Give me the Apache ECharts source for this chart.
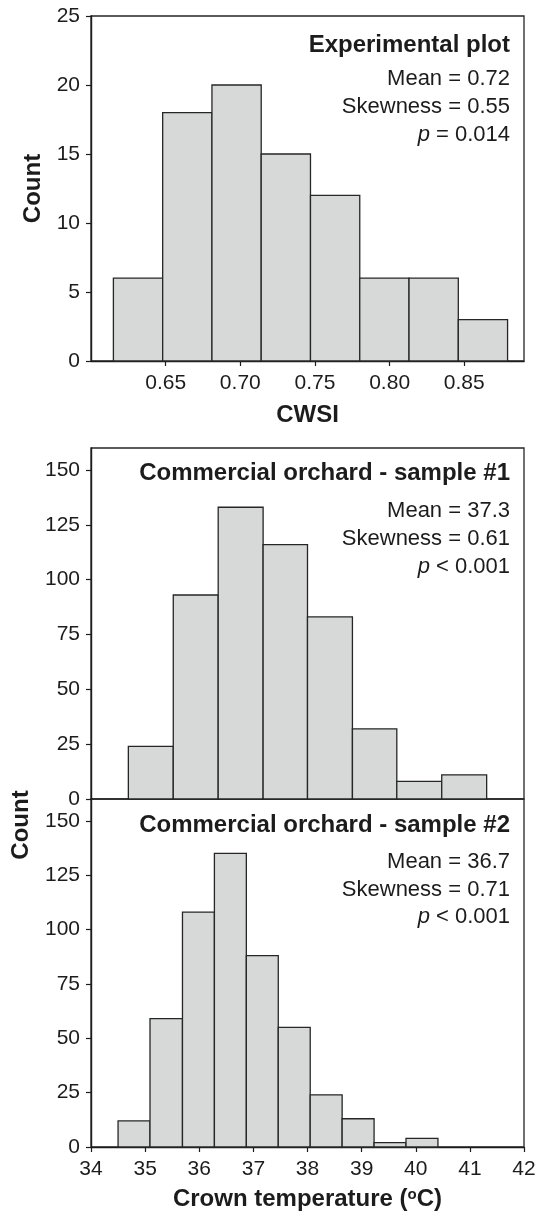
<!DOCTYPE html>
<html>
<head>
<meta charset="utf-8">
<script src="https://cdn.jsdelivr.net/npm/echarts@6/dist/echarts.min.js"></script>
<style>
html,body{margin:0;padding:0;background:#fff;}
#chart{width:543px;height:1212px;}
</style>
</head>
<body>
<div id="chart"></div>
<script>
// ---- data ----
const expEdges = [0.615, 0.648, 0.681, 0.714, 0.747, 0.780, 0.813, 0.846, 0.879];
const expCounts = [6, 18, 20, 15, 12, 6, 6, 3];
const s1Edges = [34.69, 35.52, 36.35, 37.18, 38.00, 38.83, 39.65, 40.48, 41.31];
const s1Counts = [24, 93, 133, 116, 83, 32, 8, 11];
const s2Edges = [34.50, 35.09, 35.69, 36.28, 36.87, 37.46, 38.05, 38.64, 39.23, 39.82, 40.41];
const s2Counts = [12, 59, 108, 135, 88, 55, 24, 13, 2, 4];
const cwsiTicks = [0.65, 0.70, 0.75, 0.80, 0.85];
const expYTicks = [0, 5, 10, 15, 20, 25];
const orchYTicks = [0, 25, 50, 75, 100, 125, 150];
const tempTicks = [34, 35, 36, 37, 38, 39, 40, 41, 42];
const panelTitles = ['Experimental plot', 'Commercial orchard - sample #1', 'Commercial orchard - sample #2'];
const panelStats = [
  ['Mean = 0.72', 'Skewness = 0.55', '{i|p} = 0.014'],
  ['Mean = 37.3', 'Skewness = 0.61', '{i|p} < 0.001'],
  ['Mean = 36.7', 'Skewness = 0.71', '{i|p} < 0.001']
];

function toBins(edges, counts) {
  return counts.map((c, i) => [edges[i], edges[i + 1], c]);
}

const FONT = "'Liberation Sans', Arial, Helvetica, sans-serif";
const INK = '#1c1c1c';

function renderBin(params, api) {
  const p0 = api.coord([api.value(0), api.value(2)]);
  const p1 = api.coord([api.value(1), 0]);
  return {
    type: 'rect',
    shape: { x: p0[0], y: p0[1], width: p1[0] - p0[0], height: p1[1] - p0[1] },
    style: { fill: '#d7d9d8', stroke: '#262626', lineWidth: 1.3 }
  };
}

const axisLineStyle = { show: true, lineStyle: { color: INK, width: 1.4 } };
const tickStyle = { show: true, length: 5, lineStyle: { color: INK, width: 1.2 } };
const labelStyle = { color: INK, fontSize: 21, fontFamily: FONT };

const gridStyle = { show: true, borderColor: '#262626', borderWidth: 1.3, backgroundColor: 'transparent' };

const chart = echarts.init(document.getElementById('chart'), null, { renderer: 'canvas' });

function statTexts(panel, yTitle, yFirst, step) {
  const out = [{
    type: 'text', x: 510, y: yTitle,
    style: { text: panelTitles[panel], fill: INK, font: 'bold 24px ' + FONT, align: 'right', verticalAlign: 'middle' }
  }];
  panelStats[panel].forEach((t, i) => {
    out.push({
      type: 'text', x: 510, y: yFirst + i * step,
      style: {
        text: t, fill: INK, fontSize: 22, fontFamily: FONT, align: 'right', verticalAlign: 'middle',
        rich: { i: { fontStyle: 'italic', fontSize: 22, fontFamily: FONT, fill: INK } }
      }
    });
  });
  return out;
}

const option = {
  animation: false,
  backgroundColor: '#fff',
  textStyle: { fontFamily: FONT },
  grid: [
    Object.assign({ left: 91, top: 16, width: 433, height: 345 }, gridStyle),
    Object.assign({ left: 91, top: 448, width: 433, height: 351 }, gridStyle),
    Object.assign({ left: 91, top: 799, width: 433, height: 349 }, gridStyle)
  ],
  xAxis: [
    {
      type: 'value', gridIndex: 0, min: 0.60, max: 0.89,
      axisLine: axisLineStyle,
      axisTick: Object.assign({ customValues: cwsiTicks }, tickStyle),
      axisLabel: Object.assign({ customValues: cwsiTicks, margin: 12, formatter: v => v.toFixed(2) }, labelStyle),
      splitLine: { show: false },
      name: 'CWSI', nameLocation: 'middle', nameGap: 42,
      nameTextStyle: { fontSize: 24, fontWeight: 'bold', color: INK, fontFamily: FONT }
    },
    {
      type: 'value', gridIndex: 1, min: 34, max: 42, interval: 1,
      axisLine: { show: false }, axisTick: { show: false }, axisLabel: { show: false },
      splitLine: { show: false }
    },
    {
      type: 'value', gridIndex: 2, min: 34, max: 42, interval: 1,
      axisLine: axisLineStyle,
      axisTick: Object.assign({ customValues: tempTicks }, tickStyle),
      axisLabel: Object.assign({ customValues: tempTicks, margin: 12 }, labelStyle),
      splitLine: { show: false },
      name: '{b|Crown temperature (}{s|o}{b|C)}', nameLocation: 'middle', nameGap: 40,
      nameTextStyle: {
        color: INK, fontFamily: FONT,
        rich: {
          b: { fontSize: 24, fontWeight: 'bold', color: INK, fontFamily: FONT },
          s: { fontSize: 15, fontWeight: 'bold', color: INK, fontFamily: FONT, verticalAlign: 'top', padding: [0, 0, 8, 0] }
        }
      }
    }
  ],
  yAxis: [
    {
      type: 'value', gridIndex: 0, min: 0, max: 25, interval: 5,
      axisLine: axisLineStyle,
      axisTick: Object.assign({ customValues: expYTicks }, tickStyle),
      axisLabel: Object.assign({ customValues: expYTicks, margin: 11 }, labelStyle),
      splitLine: { show: false },
      name: 'Count', nameLocation: 'middle', nameGap: 44, nameRotate: 90,
      nameTextStyle: { fontSize: 24, fontWeight: 'bold', color: INK, fontFamily: FONT }
    },
    {
      type: 'value', gridIndex: 1, min: 0, max: 160, interval: 25,
      axisLine: axisLineStyle,
      axisTick: Object.assign({ customValues: orchYTicks }, tickStyle),
      axisLabel: Object.assign({ customValues: orchYTicks, margin: 11 }, labelStyle),
      splitLine: { show: false }
    },
    {
      type: 'value', gridIndex: 2, min: 0, max: 160, interval: 25,
      axisLine: axisLineStyle,
      axisTick: Object.assign({ customValues: orchYTicks }, tickStyle),
      axisLabel: Object.assign({ customValues: orchYTicks, margin: 11 }, labelStyle),
      splitLine: { show: false }
    }
  ],
  series: [
    { type: 'custom', xAxisIndex: 0, yAxisIndex: 0, renderItem: renderBin, encode: { x: [0, 1], y: 2 }, data: toBins(expEdges, expCounts) },
    { type: 'custom', xAxisIndex: 1, yAxisIndex: 1, renderItem: renderBin, encode: { x: [0, 1], y: 2 }, data: toBins(s1Edges, s1Counts) },
    { type: 'custom', xAxisIndex: 2, yAxisIndex: 2, renderItem: renderBin, encode: { x: [0, 1], y: 2 }, data: toBins(s2Edges, s2Counts) }
  ],
  graphic: [].concat(
    statTexts(0, 45, 79, 28),
    statTexts(1, 473, 511, 28),
    statTexts(2, 825, 862, 27.5),
    [{
      type: 'text', x: 21, y: 825, rotation: Math.PI / 2,
      style: { text: 'Count', fill: INK, font: 'bold 24px ' + FONT, align: 'center', verticalAlign: 'middle' }
    }]
  )
};

chart.setOption(option);
</script>
</body>
</html>
